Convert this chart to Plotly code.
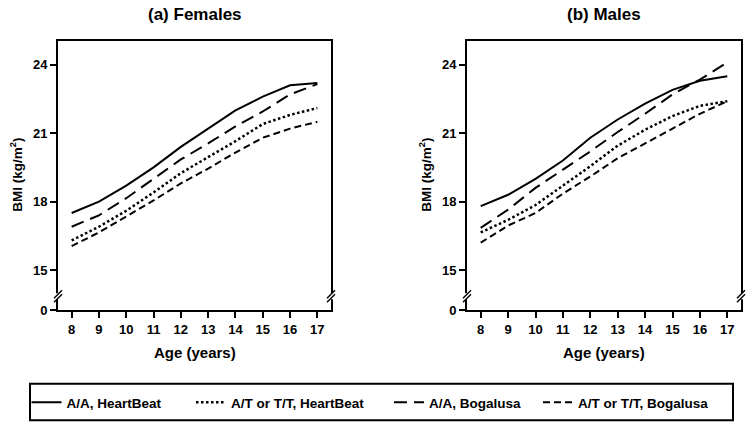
import plotly.graph_objects as go

# ---------------- data ----------------
ages = [8, 9, 10, 11, 12, 13, 14, 15, 16, 17]

fem_aa_hb = [17.5, 18.0, 18.7, 19.5, 20.4, 21.2, 22.0, 22.6, 23.1, 23.2]
fem_at_hb = [16.3, 16.9, 17.6, 18.4, 19.25, 19.95, 20.65, 21.4, 21.8, 22.1]
fem_aa_bo = [16.9, 17.4, 18.15, 19.0, 19.85, 20.55, 21.3, 21.95, 22.7, 23.15]
fem_at_bo = [16.05, 16.65, 17.35, 18.05, 18.8, 19.45, 20.15, 20.8, 21.2, 21.5]

male_aa_hb = [17.8, 18.3, 19.0, 19.8, 20.8, 21.6, 22.3, 22.9, 23.3, 23.5]
male_at_hb = [16.65, 17.2, 17.85, 18.7, 19.55, 20.45, 21.15, 21.75, 22.2, 22.4]
male_aa_bo = [16.85, 17.65, 18.6, 19.4, 20.2, 21.05, 21.85, 22.7, 23.35, 24.1]
male_at_bo = [16.2, 16.95, 17.5, 18.35, 19.1, 19.9, 20.55, 21.2, 21.85, 22.4]

series_names = ["A/A, HeartBeat", "A/T or T/T, HeartBeat", "A/A, Bogalusa", "A/T or T/T, Bogalusa"]
panel_titles = ["(a) Females", "(b) Males"]

y_break_base = 13.24          # axis position that carries the "0" label (broken axis)
ytick_vals = [y_break_base, 15, 18, 21, 24]
ytick_text = ["0", "15", "18", "21", "24"]
xtick_vals = ages
x_title = "Age (years)"
y_title = "BMI (kg/m<sup>2</sup>)"

# ---------------- layout helpers ----------------
W, H = 750, 437
def fx(p):
    return p / W
def fy(p):
    return 1 - p / H

FONT = "Liberation Sans, Arial, sans-serif"
dashes = ["solid", "2.5px,2.5px", "13px,7px", "7px,4px"]
widths = [2, 2.5, 2, 2]
legend_ids = ["legend", "legend2", "legend3", "legend4"]

fig = go.Figure()

panels = [
    ([fem_aa_hb, fem_at_hb, fem_aa_bo, fem_at_bo], "x", "y"),
    ([male_aa_hb, male_at_hb, male_aa_bo, male_at_bo], "x2", "y2"),
]
for pi, (vals, xa, ya) in enumerate(panels):
    for si, v in enumerate(vals):
        fig.add_trace(go.Scatter(
            x=ages, y=v, mode="lines", name=series_names[si],
            line=dict(color="black", width=widths[si], dash=dashes[si]),
            xaxis=xa, yaxis=ya, showlegend=(pi == 0), legend=legend_ids[si],
            hoverinfo="skip",
        ))

x_domains = [[fx(58), fx(331)], [fx(467), fx(741)]]
y_domain = [fy(316), fy(42)]

axis_common = dict(
    showline=True, linecolor="black", linewidth=2, mirror=True,
    showgrid=False, zeroline=False, ticks="outside", ticklen=6, tickwidth=2,
    tickcolor="black", tickfont=dict(family=FONT, size=13, color="black", weight="bold"),
)

layout = dict(
    width=W, height=H, margin=dict(l=0, r=0, t=0, b=0),
    paper_bgcolor="white", plot_bgcolor="white",
    font=dict(family=FONT, color="black", weight="bold"),
)
for i, (xa, ya) in enumerate([("xaxis", "yaxis"), ("xaxis2", "yaxis2")]):
    suffix = "" if i == 0 else "2"
    layout[xa] = dict(axis_common, domain=x_domains[i], range=[7.5, 17.5],
                      tickvals=xtick_vals, anchor="y" + suffix)
    layout[ya] = dict(axis_common, domain=y_domain, range=[y_break_base, 25.03],
                      tickvals=ytick_vals, ticktext=ytick_text, anchor="x" + suffix)

# separate legends so each entry sits where the reference places it
text_starts = [71.5, 236, 434, 583]
for lid, ts in zip(legend_ids, text_starts):
    layout[lid] = dict(
        x=fx(ts - 45), y=fy(410), xanchor="left", yanchor="middle",
        orientation="h", bgcolor="rgba(0,0,0,0)", borderwidth=0,
        font=dict(family=FONT, size=13.5, color="black", weight="bold"),
    )

fig.update_layout(**layout)

annotations = []
for i, t in enumerate(panel_titles):
    cx = (x_domains[i][0] + x_domains[i][1]) / 2
    annotations.append(dict(text=t, x=cx, y=fy(15), xref="paper", yref="paper",
                            showarrow=False, xanchor="center", yanchor="middle",
                            font=dict(family=FONT, size=17, color="black", weight="bold")))
    annotations.append(dict(text=x_title, x=cx, y=fy(359), xref="paper", yref="paper",
                            showarrow=False, xanchor="center", yanchor="middle",
                            font=dict(family=FONT, size=15, color="black", weight="bold")))
    annotations.append(dict(text=y_title, x=x_domains[i][0] - fx(42), y=fy(178),
                            xref="paper", yref="paper", textangle=-90,
                            showarrow=False, xanchor="center", yanchor="middle",
                            font=dict(family=FONT, size=13.5, color="black", weight="bold")))
fig.update_layout(annotations=annotations)

# axis-break marks on the left and right frame lines of both panels
shapes = []
for xd, yd in [("x domain", "y domain"), ("x2 domain", "y2 domain")]:
    for side in [0, 1]:
        shapes.append(dict(type="rect", xref=xd, yref=yd, xsizemode="pixel", ysizemode="pixel",
                           xanchor=side, yanchor=0, x0=-3, x1=3, y0=11, y1=17,
                           fillcolor="white", line=dict(width=0)))
        for off in [0, 4]:
            shapes.append(dict(type="line", xref=xd, yref=yd, xsizemode="pixel", ysizemode="pixel",
                               xanchor=side, yanchor=0, x0=-4, x1=4, y0=8 + off, y1=16 + off,
                               line=dict(color="black", width=1.5)))
# legend frame
shapes.append(dict(type="rect", xref="paper", yref="paper",
                   x0=fx(30), x1=fx(733), y0=fy(428), y1=fy(391),
                   line=dict(color="black", width=2), fillcolor="rgba(0,0,0,0)"))
fig.update_layout(shapes=shapes)

fig.write_html("out.html", config={"displayModeBar": False},
               post_script="document.body.style.margin='0';")
